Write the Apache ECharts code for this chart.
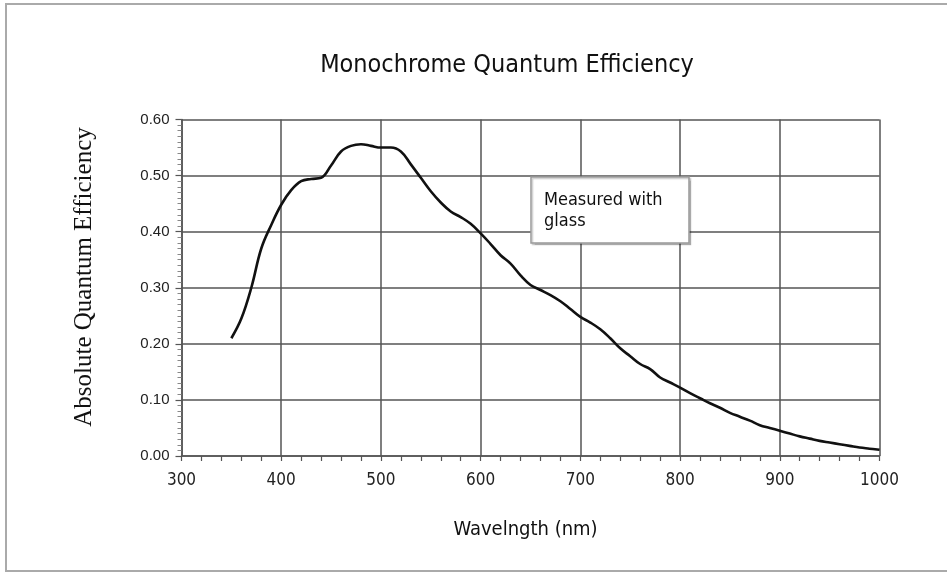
<!DOCTYPE html>
<html>
<head>
<meta charset="utf-8">
<script src="https://cdn.jsdelivr.net/npm/echarts@6/dist/echarts.min.js"></script>
<style>html,body{margin:0;padding:0;background:#fff}#c{width:947px;height:572px}</style>
</head>
<body>
<div id="c"></div>
<script>
var wavelengths = [350,360,370,380,390,400,410,420,430,440,450,460,470,480,490,500,510,520,530,540,550,560,570,580,590,600,610,620,630,640,650,660,670,680,690,700,710,720,730,740,750,760,770,780,790,800,810,820,830,840,850,860,870,880,890,900,910,920,930,940,950,960,970,980,990,1000];
var efficiency = [0.210,0.245,0.300,0.370,0.412,0.448,0.474,0.490,0.494,0.496,0.518,0.543,0.553,0.556,0.553,0.550,0.550,0.543,0.520,0.496,0.472,0.452,0.436,0.426,0.414,0.397,0.378,0.358,0.343,0.322,0.305,0.296,0.287,0.276,0.262,0.248,0.238,0.226,0.210,0.192,0.178,0.164,0.155,0.140,0.131,0.122,0.112,0.103,0.094,0.086,0.077,0.070,0.063,0.055,0.050,0.045,0.040,0.035,0.031,0.027,0.024,0.021,0.018,0.015,0.013,0.011];
var xTicks = [300,400,500,600,700,800,900,1000];
var yTicks = [0.00,0.10,0.20,0.30,0.40,0.50,0.60];
var titleText = 'Monochrome Quantum Efficiency';
var xName = 'Wavelngth (nm)';
var yName = 'Absolute Quantum Efficiency';
var noteLines = ['Measured with', 'glass'];

var narrow = "'Liberation Sans Narrow','DejaVu Sans Condensed','Roboto Condensed',sans-serif";
var chart = echarts.init(document.getElementById('c'));
var pts = wavelengths.map(function(w,i){return [w, efficiency[i]];});
chart.setOption({
  animation: false,
  backgroundColor: '#fff',
  title: {
    text: titleText, left: 502, top: 48, textAlign: 'center',
    textStyle: {fontFamily: narrow, fontSize: 25, fontWeight: 'normal', color: '#111'}
  },
  grid: {left: 181.5, right: 67.5, top: 119.5, bottom: 116, outerBoundsMode: 'none'},
  xAxis: {
    type: 'value', min: xTicks[0], max: xTicks[xTicks.length-1], interval: 100,
    name: xName, nameLocation: 'middle', nameGap: 64,
    nameTextStyle: {fontFamily: narrow, fontSize: 20, color: '#111', padding: [0,0,0,-10]},
    axisLine: {show: true, lineStyle: {color: '#555', width: 1.5}},
    axisTick: {show: true, length: 5, lineStyle: {color: '#555', width: 1.2}},
    minorTick: {show: true, splitNumber: 5, length: 5, lineStyle: {color: '#555', width: 1.2}},
    axisLabel: {fontFamily: narrow, fontSize: 17, color: '#222', margin: 16,
      formatter: function(v){return String(v);}},
    splitLine: {show: true, lineStyle: {color: '#555', width: 1.5}}
  },
  yAxis: {
    type: 'value', min: 0, max: 0.6, interval: 0.1,
    axisLine: {show: true, lineStyle: {color: '#555', width: 1.5}},
    axisTick: {show: true, length: 6, lineStyle: {color: '#555', width: 1.2}},
    minorTick: {show: true, splitNumber: 10, length: 4, lineStyle: {color: '#888', width: 1}},
    axisLabel: {fontFamily: "'Liberation Sans',Arial,sans-serif", fontSize: 15, color: '#222', margin: 12,
      formatter: function(v){return v.toFixed(2);}},
    splitLine: {show: true, lineStyle: {color: '#555', width: 1.5}}
  },
  series: [{
    type: 'line', data: pts, smooth: 0.4, symbol: 'none',
    lineStyle: {color: '#111', width: 2.6}, z: 5
  }],
  graphic: [
    {type: 'rect', shape: {x: 6, y: 4, width: 980, height: 567},
     style: {fill: 'none', stroke: '#aaa', lineWidth: 2}, silent: true},
    {type: 'text', x: 84, y: 277, rotation: Math.PI/2,
     style: {text: yName, fontFamily: "'Liberation Serif','Times New Roman',serif", fontSize: 25, fill: '#111',
       textAlign: 'center', textVerticalAlign: 'middle'}},
    {type: 'rect', shape: {x: 531, y: 177, width: 158, height: 66},
     style: {fill: '#fff', stroke: '#999', lineWidth: 1.5, shadowColor: 'rgba(0,0,0,0.2)', shadowOffsetX: 1.5, shadowOffsetY: 1.5, shadowBlur: 1}, z: 10},
    {type: 'text', x: 544, y: 190, z: 11,
     style: {text: noteLines.join('\n'), fontFamily: narrow, fontSize: 18, lineHeight: 21, fill: '#111'}}
  ]
});
</script>
</body>
</html>
